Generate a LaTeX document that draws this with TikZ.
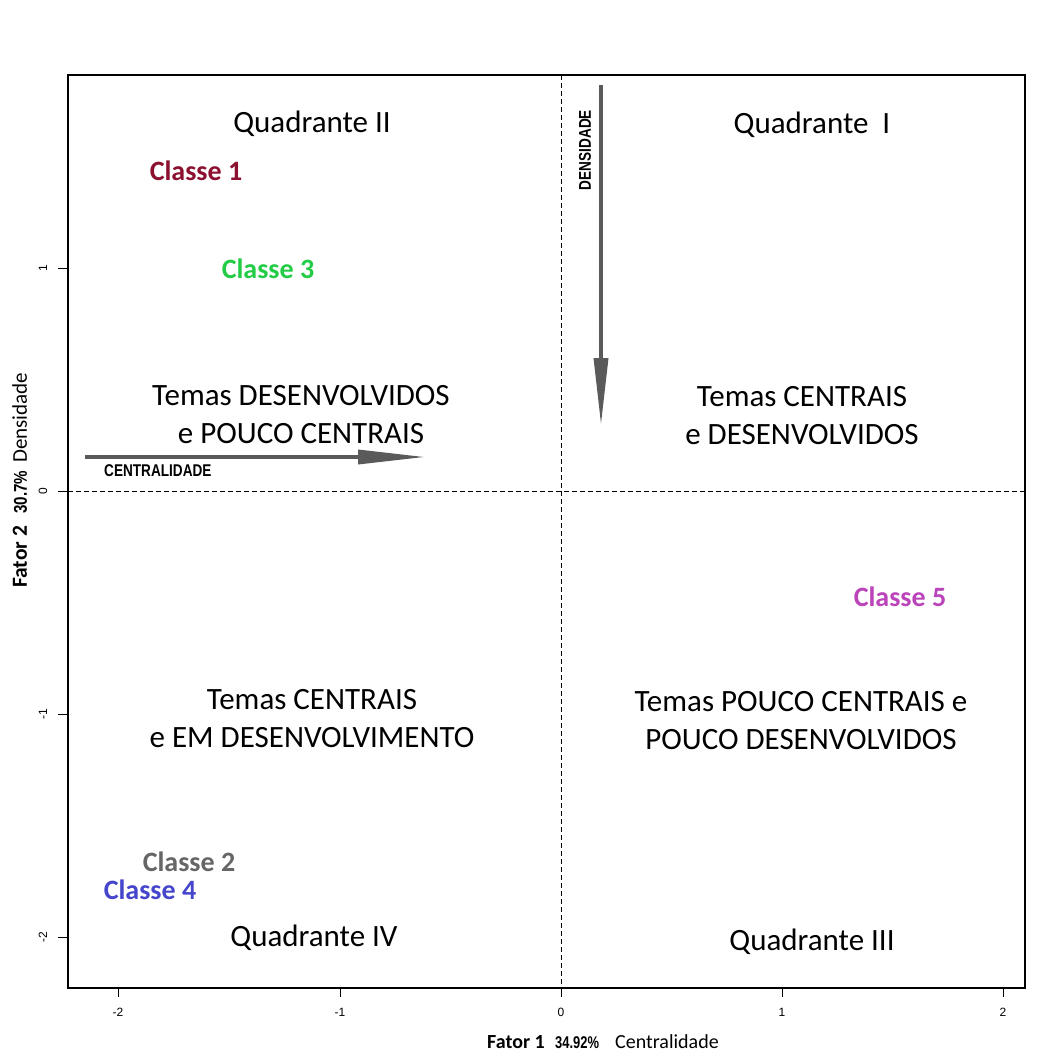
\documentclass[tikz,border=0pt]{standalone}
\usepackage{fontspec}
\usepackage{graphicx}
\setmainfont{Carlito}
\newfontfamily\arialf{Liberation Sans}
\usetikzlibrary{arrows.meta}
\definecolor{cls1}{HTML}{8C1030}
\definecolor{cls2}{HTML}{666666}
\definecolor{cls3}{HTML}{22CC44}
\definecolor{cls4}{HTML}{4646CC}
\definecolor{cls5}{HTML}{BB44BB}
\definecolor{arrgray}{HTML}{5A5A5A}
\newcommand{\narrowtxt}[1]{\scalebox{0.82}[1]{#1}}
\tikzset{
  bigtxt/.style={inner sep=0pt, align=center, font=\fontsize{31}{38}\selectfont},
  clstxt/.style={inner sep=0pt, font=\fontsize{28}{32}\selectfont\bfseries},
  ticktxt/.style={inner sep=0pt, font=\arialf\fontsize{12}{14}\selectfont},
  dirtxt/.style={inner sep=0pt, font=\arialf\bfseries\fontsize{17}{19}\selectfont},
  guide/.style={dash pattern=on 5pt off 3pt, line width=0.9pt},
  dirarrow/.style={draw=arrgray, fill=arrgray, line width=3.5pt, -{Triangle[length=67pt,width=14pt]}},
  tickmark/.style={line width=0.9pt}
}
\begin{document}
\begin{tikzpicture}[x=1pt,y=-1pt]
\useasboundingbox (0,0) rectangle (1047,1059);
\fill[white] (0,0) rectangle (1047,1059);
% frame
\coordinate (tl) at (68,75);
\coordinate (br) at (1025,988);
\draw[line width=1.5pt] (tl) rectangle (br);
\draw[line width=2.5pt] (68,988) -- (1025,988) -- (1025,75);
% guides
\coordinate (vt) at (561,75);
\coordinate (vb) at (561,988);
\coordinate (hl) at (68,491);
\coordinate (hr) at (1025,491);
\draw[guide] (vt) -- (vb);
\draw[guide] (hl) -- (hr);
% x ticks
\foreach \v/\px in {-2/118,-1/340,0/561,1/782,2/1003}{
  \draw[tickmark] (\px,988) -- (\px,997);
  \node[ticktxt] (xt\px) at (\px,1012) {\v};
}
% y ticks
\foreach \v/\py in {1/268,0/491,-1/714,-2/937}{
  \draw[tickmark] (68,\py) -- (58,\py);
  \node[ticktxt, rotate=90] (yt\py) at (43,\py) {\v};
}
% axis titles
\node[inner sep=0pt, anchor=base west, font=\fontsize{20}{22}\selectfont\bfseries] (f1) at (487,1048) {Fator 1};
\node[inner sep=0pt, anchor=base west, font=\arialf\bfseries\fontsize{17}{19}\selectfont] (p1) at (555,1048) {\scalebox{0.76}[1]{34.92\%}};
\node[inner sep=0pt, anchor=base west, font=\fontsize{20}{22}\selectfont] (c1) at (615,1048) {Centralidade};
\node[inner sep=0pt, rotate=90, anchor=base west, font=\fontsize{21.5}{24}\selectfont\bfseries] (f2) at (27,588) {Fator 2};
\node[inner sep=0pt, rotate=90, anchor=base west, font=\arialf\bfseries\fontsize{18.5}{20}\selectfont] (p2) at (27,514) {\narrowtxt{30.7\%}};
\node[inner sep=0pt, rotate=90, anchor=base west, font=\fontsize{21}{24}\selectfont] (d2) at (27,463) {Densidade};
% direction arrows
\coordinate (cs) at (85,457);
\coordinate (ce) at (425,457);
\draw[dirarrow] (cs) -- (ce);
\node[dirtxt, anchor=west] (cl) at (104,471) {\scalebox{0.8}[1]{CENTRALIDADE}};
\coordinate (ds) at (601,85);
\coordinate (de) at (601,425);
\draw[dirarrow] (ds) -- (de);
\node[dirtxt, rotate=90] (dl) at (585,150) {\scalebox{0.8}[1]{DENSIDADE}};
% quadrant titles
\node[bigtxt] (q2) at (312,124) {Quadrante II};
\node[bigtxt] (q1) at (812,125) {Quadrante\ \ I};
\node[bigtxt] (q4) at (314,938) {Quadrante IV};
\node[bigtxt] (q3) at (812,942) {Quadrante III};
% themes
\node[bigtxt] (t2) at (301,415) {Temas DESENVOLVIDOS\\e POUCO CENTRAIS};
\node[bigtxt] (t1) at (802,416) {Temas CENTRAIS\\e DESENVOLVIDOS};
\node[bigtxt] (t4) at (312,719) {Temas CENTRAIS\\e EM DESENVOLVIMENTO};
\node[bigtxt] (t3) at (801,721) {Temas POUCO CENTRAIS e\\POUCO DESENVOLVIDOS};
% classes
\node[clstxt, text=cls1] (k1) at (196,171) {Classe 1};
\node[clstxt, text=cls3] (k3) at (268,269) {Classe 3};
\node[clstxt, text=cls5] (k5) at (900,597) {Classe 5};
\node[clstxt, text=cls2] (k2) at (189,862) {Classe 2};
\node[clstxt, text=cls4] (k4) at (150,890) {Classe 4};
\end{tikzpicture}
\end{document}
